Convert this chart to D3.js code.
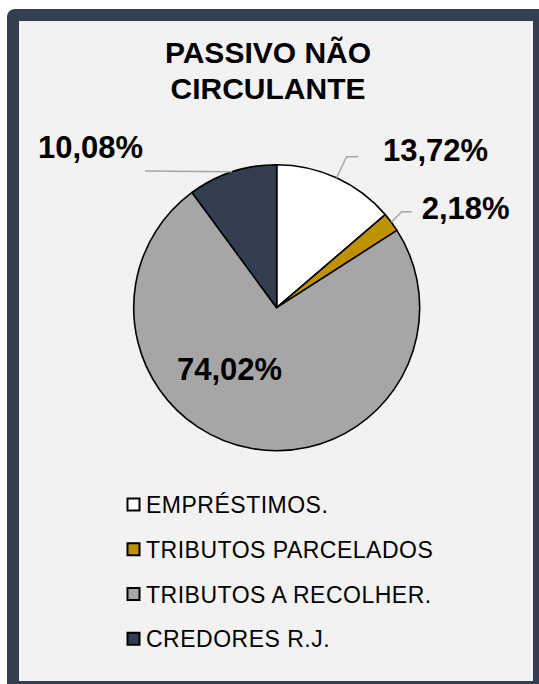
<!DOCTYPE html>
<html>
<head>
<meta charset="utf-8">
<script src="https://cdn.jsdelivr.net/npm/d3@7"></script>
<style>
  html, body { margin: 0; padding: 0; background: #fff; }
  svg { display: block; }
  text { font-family: "Liberation Sans", Arial, sans-serif; }
</style>
</head>
<body>
<div id="chart"></div>
<script>
  var categories = ['EMPRÉSTIMOS.', 'TRIBUTOS PARCELADOS', 'TRIBUTOS A RECOLHER.', 'CREDORES R.J.'];
  var values = [13.72, 2.18, 74.02, 10.08];
  var labels = ['13,72%', '2,18%', '74,02%', '10,08%'];
  var colors = ['#ffffff', '#bf9000', '#a6a6a6', '#333f50'];
  var titleLines = ['PASSIVO NÃO', 'CIRCULANTE'];

  var width = 539;
  var height = 684;
  var cx = 276.7;
  var cy = 307.7;
  var radius = 143;

  var svg = d3.select('#chart').append('svg')
      .attr('width', width)
      .attr('height', height);

  // frame
  svg.append('rect')
      .attr('x', 7).attr('y', 9)
      .attr('width', 545).attr('height', 690)
      .attr('rx', 8)
      .attr('fill', '#333f50');
  svg.append('rect')
      .attr('x', 19).attr('y', 21)
      .attr('width', 514).attr('height', 660)
      .attr('fill', '#f2f2f2');

  // title
  svg.append('g').selectAll('text').data(titleLines).enter().append('text')
      .attr('x', 268)
      .attr('y', function (d, i) { return 63.3 + i * 36; })
      .attr('text-anchor', 'middle')
      .attr('font-size', 30)
      .attr('font-weight', 'bold')
      .attr('fill', '#000')
      .text(function (d) { return d; });

  var pie = d3.pie().sort(null).value(function (d) { return d; });
  var arcs = pie(values);
  var arc = d3.arc().innerRadius(0).outerRadius(radius);

  var pieG = svg.append('g').attr('transform', 'translate(' + cx + ',' + cy + ')');
  pieG.selectAll('path.slice').data(arcs).enter().append('path')
      .attr('class', 'slice')
      .attr('d', arc)
      .attr('fill', function (d, i) { return colors[i]; })
      .attr('stroke', '#000')
      .attr('stroke-width', 1.6)
      .attr('stroke-linejoin', 'round');

  // label placement, relative to the pie centre (layout only)
  var labelPos = [
    {x: 106.3, y: -146.7, elbow: [70, -151], end: [81.6, -151]},
    {x: 145, y: -88.7, elbow: [125, -96], end: [135, -96]},
    {x: -99.7, y: 72.3, inside: true},
    {x: -238.7, y: -150, end: [-131.7, -136.7]}
  ];

  var midPoint = function (d) {
    var a = (d.startAngle + d.endAngle) / 2;
    return [radius * Math.sin(a), -radius * Math.cos(a)];
  };

  var leaders = pieG.append('g');
  arcs.forEach(function (d, i) {
    var p = labelPos[i];
    if (p.inside) { return; }
    var pts = [midPoint(d)];
    if (p.elbow) { pts.push(p.elbow); }
    pts.push(p.end);
    leaders.append('path')
        .attr('d', d3.line()(pts))
        .attr('fill', 'none')
        .attr('stroke', '#a6a6a6')
        .attr('stroke-width', 1.5);
  });

  pieG.selectAll('text.pct').data(arcs).enter().append('text')
      .attr('class', 'pct')
      .attr('x', function (d, i) { return labelPos[i].x; })
      .attr('y', function (d, i) { return labelPos[i].y; })
      .attr('font-size', 31)
      .attr('font-weight', 'bold')
      .attr('fill', '#000')
      .text(function (d, i) { return labels[i]; });

  // legend
  var legendY = d3.scaleBand().domain(categories).range([491, 670]);
  var legend = svg.append('g').selectAll('g').data(categories).enter().append('g')
      .attr('transform', function (d) { return 'translate(127,' + legendY(d) + ')'; });
  legend.append('rect')
      .attr('x', 0.5).attr('y', 7.5)
      .attr('width', 12).attr('height', 12)
      .attr('fill', function (d, i) { return colors[i]; })
      .attr('stroke', '#000')
      .attr('stroke-width', 2);
  legend.append('text')
      .attr('x', 19)
      .attr('y', 22)
      .attr('font-size', 23)
      .attr('letter-spacing', 0.5)
      .attr('fill', '#000')
      .text(function (d) { return d; });
</script>
</body>
</html>
